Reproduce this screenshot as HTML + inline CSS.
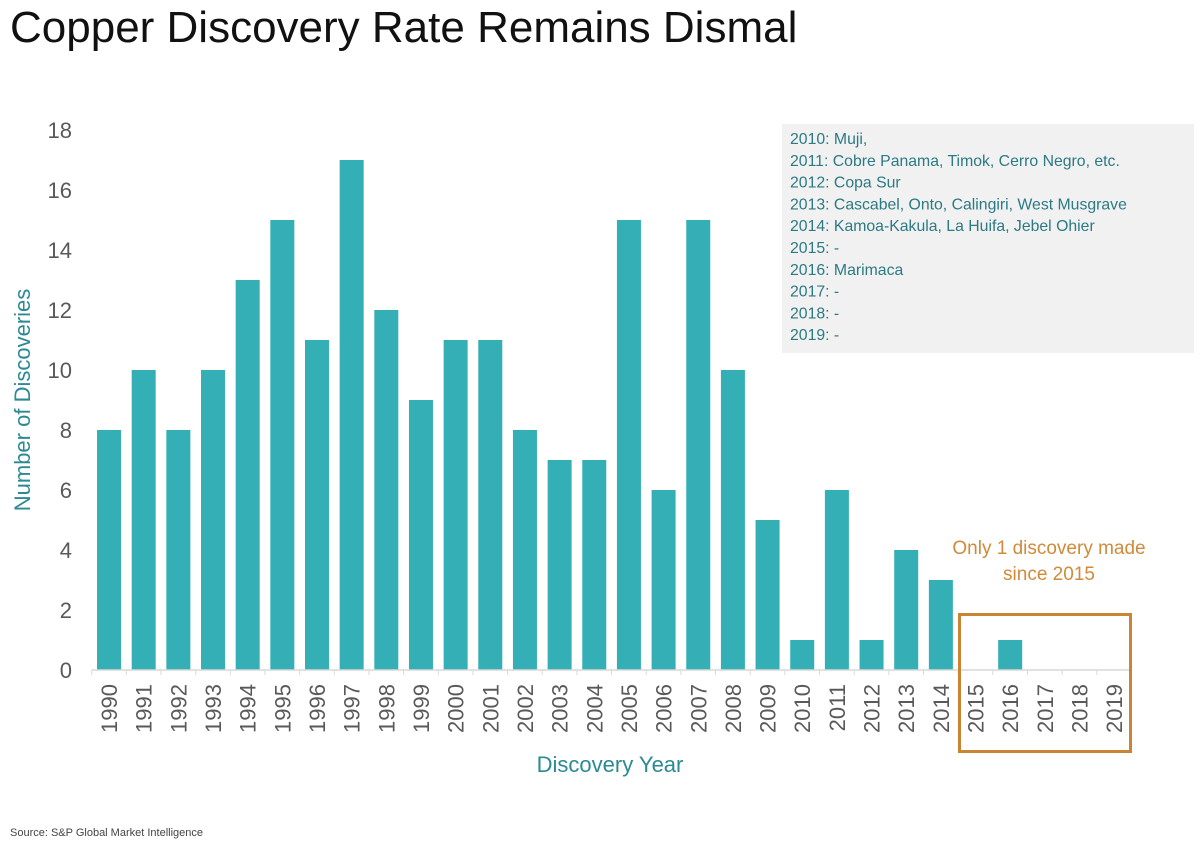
<!DOCTYPE html>
<html><head><meta charset="utf-8"><style>
body{margin:0;background:#fff;width:1200px;height:856px;overflow:hidden;font-family:"Liberation Sans",sans-serif}
</style></head><body>
<svg width="1200" height="856" xmlns="http://www.w3.org/2000/svg">
<text x="10" y="42" font-size="44" fill="#111" font-family="Liberation Sans, sans-serif">Copper Discovery Rate Remains Dismal</text>
<rect x="782" y="124" width="412" height="229" fill="#f1f1f1"/>
<g id="notes" font-size="15.8" fill="#2b7a84"></g>
<g id="ygrid"></g>
<g id="bars"></g>
<g id="xlabels"></g>
<line x1="92" y1="670" x2="1131" y2="670" stroke="#d9d9d9" stroke-width="1.5"/>
<text transform="translate(30,400) rotate(-90)" text-anchor="middle" font-size="22" fill="#2b8a92">Number of Discoveries</text>
<text x="610" y="772" text-anchor="middle" font-size="22" fill="#2b8a92">Discovery Year</text>
<text x="1049" y="554" text-anchor="middle" font-size="19" fill="#d08a3a"><tspan x="1049">Only 1 discovery made</tspan><tspan x="1049" dy="26">since 2015</tspan></text>
<rect x="959.5" y="614.5" width="171" height="137" fill="none" stroke="#c98533" stroke-width="3"/>
<text x="10" y="836" font-size="11" fill="#444">Source: S&amp;P Global Market Intelligence</text>
</svg>
<script>
const years=[1990,1991,1992,1993,1994,1995,1996,1997,1998,1999,2000,2001,2002,2003,2004,2005,2006,2007,2008,2009,2010,2011,2012,2013,2014,2015,2016,2017,2018,2019];
const counts=[8,10,8,10,13,15,11,17,12,9,11,11,8,7,7,15,6,15,10,5,1,6,1,4,3,0,1,0,0,0];
const yTicks=[0,2,4,6,8,10,12,14,16,18];
const notes=["2010: Muji,","2011: Cobre Panama, Timok, Cerro Negro, etc.","2012: Copa Sur","2013: Cascabel, Onto, Calingiri, West Musgrave","2014: Kamoa-Kakula, La Huifa, Jebel Ohier","2015: -","2016: Marimaca","2017: -","2018: -","2019: -"];
const NS="http://www.w3.org/2000/svg";
const y0=670,yTop=130,yMax=18;
const ys=v=>y0-(y0-yTop)*v/yMax;
const step=34.66,xStart=91.7;
const xc=i=>xStart+step*(i+0.5);
function mk(t,a){const e=document.createElementNS(NS,t);for(const k in a)e.setAttribute(k,a[k]);return e;}
const yg=document.getElementById('ygrid');
yTicks.forEach(t=>{const e=mk('text',{x:72,y:ys(t)+8,'text-anchor':'end','font-size':22,fill:'#595959'});e.textContent=t;


yg.appendChild(e);});
const bg=document.getElementById('bars'),xl=document.getElementById('xlabels');
years.forEach((yr,i)=>{
 const r=mk('rect',{x:xc(i)-12,y:ys(counts[i]),width:24,height:y0-ys(counts[i]),fill:'#33afb5'});
 
 
 bg.appendChild(r);
 const tk=mk('line',{x1:xStart+step*i,y1:y0,x2:xStart+step*i,y2:y0+5,stroke:'#d9d9d9'});
 
 
 bg.appendChild(tk);
 const t=mk('text',{transform:`translate(${xc(i)+8},${y0+14}) rotate(-90)`,'text-anchor':'end','font-size':22,fill:'#595959'});
 t.textContent=yr;
 
 
 xl.appendChild(t);
});
const ng=document.getElementById('notes');
notes.forEach((n,i)=>{const t=mk('text',{x:790,y:144+i*21.8});t.textContent=n;


ng.appendChild(t);});
</script>
</body></html>
